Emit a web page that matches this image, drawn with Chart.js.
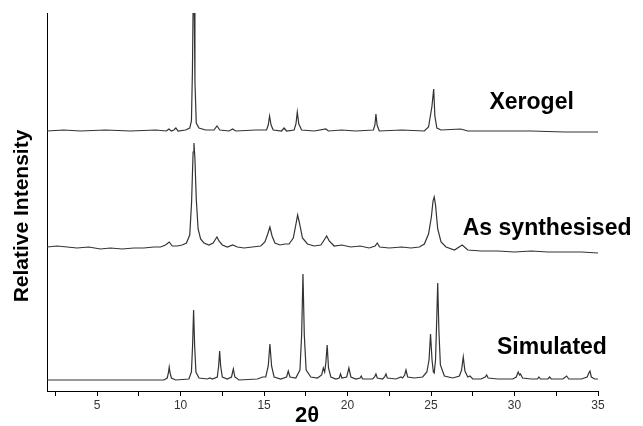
<!DOCTYPE html>
<html lang="en">
<head>
    <meta charset="UTF-8">
    <title>XRD - Xerogel / As synthesised / Simulated</title>
    <script src="https://cdn.jsdelivr.net/npm/chart.js"></script>
    <style>
        html, body { margin: 0; padding: 0; background: #fff; }
        #wrap { width: 643px; height: 426px; position: relative; }
    </style>
</head>
<body>
    <div id="wrap">
        <canvas id="xrdChart"></canvas>
    </div>

    <script>
        // Series names (stacked top to bottom)
        var seriesLabels = ['Xerogel', 'As synthesised', 'Simulated'];

        // Vertical offsets of each pattern (stacked display)
        var xerogelOffset = 260;
        var asSynthOffset = 144;
        var simulatedOffset = 11;

        // x axis ticks (2θ), labels only on multiples of 5
        var xTickValues = [2.5, 5, 7.5, 10, 12.5, 15, 17.5, 20, 22.5, 25, 27.5, 30, 32.5, 35];

        // [2θ, intensity above baseline]
        var xerogel = [
            [2.0,0],[3.0,1],[4.0,0],[5.5,1],[7.0,0],[8.5,1],[9.15,0],[9.3,2],[9.45,0],[9.6,1],[9.72,3],[9.85,0],
            [10.3,1],[10.55,3],[10.65,10],[10.71,60],[10.76,140],[10.81,140],[10.86,50],[10.94,8],[11.1,3],[11.5,1],
            [12.0,1],[12.18,5],[12.35,1],[12.9,0],[13.12,2],[13.3,0],[14.5,1],[15.15,1],[15.25,6],[15.33,15],[15.42,6],
            [15.55,1],[16.05,0],[16.2,3],[16.35,0],[16.8,1],[16.91,7],[16.99,19],[17.08,7],[17.25,1],[18.0,0],[18.7,2],
            [18.85,0],[19.65,1],[20.5,0],[21.55,1],[21.64,6],[21.7,17],[21.77,6],[21.9,0],[23.24,1],[24.6,0],[24.85,4],
            [24.95,14],[25.05,24],[25.16,42],[25.23,15],[25.35,3],[25.6,1],[26.77,2],[27.2,0],[29,0],[31,0],[33,-1],[35,-1]
        ];

        var asSynthesised = [
            [2.0,0],[2.6,1],[3.2,0],[3.8,-1],[4.5,0],[5.2,-2],[5.8,-1],[6.5,-2],[7.2,-1],[7.8,-1],[8.4,0],[8.8,0],
            [9.1,2],[9.32,5],[9.5,1],[9.8,1],[10.1,2],[10.35,4],[10.55,12],[10.66,45],[10.75,95],[10.8,104],[10.86,88],
            [10.94,48],[11.05,18],[11.2,8],[11.4,4],[11.7,2],[11.95,4],[12.1,8],[12.18,10],[12.3,6],[12.5,2],[12.8,0],
            [13.12,2],[13.4,0],[13.8,-1],[14.3,0],[14.8,1],[15.05,5],[15.22,13],[15.35,20],[15.48,11],[15.65,4],
            [15.95,2],[16.25,3],[16.5,3],[16.75,9],[16.9,22],[17.01,32],[17.12,24],[17.3,9],[17.6,3],[18.0,1],[18.4,2],
            [18.6,7],[18.75,11],[18.9,6],[19.2,1],[19.65,2],[20.2,0],[20.75,1],[21.3,-1],[21.65,1],[21.78,4],[21.92,0],
            [22.5,-1],[23.24,0],[23.8,-1],[24.3,0],[24.6,3],[24.85,13],[25.02,30],[25.12,46],[25.19,50],[25.27,42],
            [25.4,18],[25.6,5],[25.9,0],[26.4,-3],[26.87,2],[27.2,-3],[28,-4],[29,-4],[30,-5],[31,-4],[32,-5],[33,-5],
            [34,-5],[35,-6]
        ];

        var simulated = [
            [2.0,0],[9.0,0],[9.2,2],[9.27,7],[9.32,13],[9.37,7],[9.45,2],[9.7,0],[10.5,1],[10.65,8],[10.72,35],[10.78,70],
            [10.84,35],[10.92,8],[11.1,2],[11.6,1],[11.76,2],[11.9,1],[12.2,3],[12.28,14],[12.34,29],[12.4,14],[12.5,3],
            [12.8,1],[13.05,3],[13.16,11],[13.25,3],[13.5,0],[14.6,1],[14.92,3],[15.1,3],[15.25,14],[15.35,36],[15.45,14],
            [15.6,3],[16.0,1],[16.35,3],[16.45,9],[16.55,3],[16.9,2],[17.15,10],[17.25,45],[17.33,106],[17.41,45],
            [17.52,10],[17.8,3],[18.2,2],[18.45,5],[18.55,12],[18.63,8],[18.7,17],[18.78,35],[18.86,12],[19.0,3],
            [19.3,1],[19.5,2],[19.58,6],[19.66,2],[19.95,3],[20.08,12],[20.2,3],[20.5,1],[20.75,2],[20.82,4],[20.9,1],
            [21.5,1],[21.62,3],[21.7,6],[21.78,2],[22.1,1],[22.22,3],[22.3,6],[22.38,2],[22.9,1],[23.2,3],[23.3,2],
            [23.42,5],[23.5,10],[23.6,3],[24.0,2],[24.5,3],[24.75,8],[24.88,20],[24.97,46],[25.06,20],[25.14,8],
            [25.19,7],[25.27,20],[25.34,60],[25.4,97],[25.47,50],[25.56,15],[25.8,4],[26.3,2],[26.7,4],[26.83,10],
            [26.93,23],[27.03,9],[27.2,3],[27.33,4],[27.5,1],[28.0,1],[28.25,3],[28.33,5],[28.42,2],[29,1],[29.9,1],
            [30.1,3],[30.22,8],[30.3,5],[30.36,6],[30.48,2],[31.0,1],[31.38,1],[31.46,3],[31.55,1],[32.0,1],[32.1,3],
            [32.2,1],[32.9,1],[33.12,4],[33.25,1],[34.0,1],[34.35,3],[34.45,7],[34.52,9],[34.6,3],[34.8,1],[35,1]
        ];

        // where the series names sit: [2θ of left edge, plotted y]
        var labelAnchors = [[28.5, 288], [26.9, 162], [28.95, 43]];

        function toPoints(arr, offset) {
            return arr.map(function (p) { return { x: p[0], y: p[1] + offset }; });
        }

        var lineColor = '#333333';

        var datasets = [
            { label: seriesLabels[0], data: toPoints(xerogel, xerogelOffset) },
            { label: seriesLabels[1], data: toPoints(asSynthesised, asSynthOffset) },
            { label: seriesLabels[2], data: toPoints(simulated, simulatedOffset) }
        ].map(function (d) {
            d.borderColor = lineColor;
            d.borderWidth = 1.2;
            d.pointRadius = 0;
            d.tension = 0;
            d.fill = false;
            return d;
        });

        // Texts: series names and axis titles
        var textPlugin = {
            id: 'texts',
            afterDraw: function (chart) {
                var ctx = chart.ctx;
                var xs = chart.scales.x, ys = chart.scales.y;
                ctx.save();
                ctx.fillStyle = '#000';
                ctx.font = 'bold 23px "Liberation Sans", Arial, sans-serif';
                ctx.textAlign = 'left';
                ctx.textBaseline = 'middle';
                seriesLabels.forEach(function (name, i) {
                    ctx.fillText(name, xs.getPixelForValue(labelAnchors[i][0]), ys.getPixelForValue(labelAnchors[i][1]));
                });

                // x title
                ctx.font = 'bold 22px "Liberation Sans", Arial, sans-serif';
                ctx.textAlign = 'center';
                ctx.fillText('2θ', 307, 416);

                // y title
                ctx.translate(22, 216);
                ctx.rotate(-Math.PI / 2);
                ctx.font = 'bold 21px "Liberation Sans", Arial, sans-serif';
                ctx.fillText('Relative Intensity', 0, 0);
                ctx.restore();
            }
        };

        var xrdChart = new Chart(document.getElementById('xrdChart'), {
            type: 'line',
            data: { datasets: datasets },
            options: {
                responsive: true,
                maintainAspectRatio: false,
                animation: false,
                layout: { padding: { left: 0, top: 13, right: 45, bottom: 0 } },
                plugins: {
                    legend: { display: false },
                    tooltip: { enabled: false }
                },
                scales: {
                    x: {
                        type: 'linear',
                        min: 2,
                        max: 35,
                        afterBuildTicks: function (scale) {
                            scale.ticks = xTickValues.map(function (v) { return { value: v }; });
                        },
                        afterFit: function (scale) { scale.height = 35; },
                        grid: { display: true, drawOnChartArea: false, drawTicks: true, tickLength: 5, color: '#000' },
                        border: { display: true, color: '#000', width: 1 },
                        ticks: {
                            autoSkip: false,
                            maxRotation: 0,
                            padding: 2,
                            color: '#333',
                            font: { family: '"Liberation Sans", Arial, sans-serif', size: 12 },
                            callback: function (v) { return v % 5 === 0 ? String(v) : ''; }
                        }
                    },
                    y: {
                        type: 'linear',
                        min: 0,
                        max: 378,
                        afterFit: function (scale) { scale.width = 47; },
                        grid: { display: false },
                        border: { display: true, color: '#000', width: 1 },
                        ticks: { display: false }
                    }
                }
            },
            plugins: [textPlugin]
        });
    </script>
</body>
</html>
